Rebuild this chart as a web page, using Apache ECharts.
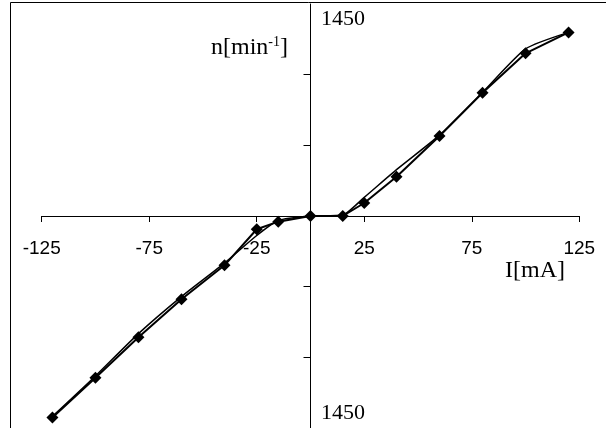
<!DOCTYPE html>
<html>
<head>
<meta charset="utf-8">
<script src="https://cdn.jsdelivr.net/npm/echarts@6/dist/echarts.min.js"></script>
<style>html,body{margin:0;padding:0;background:#fff}#c{width:606px;height:428px}</style>
</head>
<body>
<div id="c"></div>
<script>
var currentMA = [-120, -100, -80, -60, -40, -25, -15, 0, 15, 25, 40, 60, 80, 100, 120];
var speedMarked = [-1426, -1144, -858, -589, -349, -94, -40, 0, 0, 92, 278, 566, 872, 1151, 1299];
var speedPlain  = [-1418, -1132, -832, -570, -333, -138, -32, 0, 8, 132, 328, 572, 874, 1182, 1299];
var xTickValues = [-125, -75, -25, 25, 75, 125];
var yTickValues = [-1000, -500, 500, 1000];
var topLabel = '1450', bottomLabel = '1450';

function pairs(xs, ys) { return xs.map(function (x, i) { return [x, ys[i]]; }); }

var chart = echarts.init(document.getElementById('c'));
chart.setOption({
  animation: false,
  grid: { left: 41.7, right: 26.7, top: 4, bottom: 0, containLabel: false, outerBoundsMode: 'none' },
  xAxis: {
    type: 'value', min: -125, max: 125, position: 'bottom', offset: -212,
    axisLine: { onZero: false, lineStyle: { color: '#000', width: 1 } },
    axisTick: { show: true, length: 6, customValues: xTickValues, lineStyle: { color: '#000' } },
    axisLabel: { customValues: xTickValues, color: '#000', fontFamily: 'Liberation Sans', fontSize: 19, margin: 23 },
    splitLine: { show: false }
  },
  yAxis: {
    type: 'value', min: -1500, max: 1500,
    axisLine: { onZero: true, lineStyle: { color: '#000', width: 1 } },
    axisTick: { show: true, length: 7, customValues: yTickValues, lineStyle: { color: '#000' } },
    axisLabel: { show: false },
    splitLine: { show: false }
  },
  series: [
    { type: 'line', data: pairs(currentMA, speedPlain), symbol: 'none', smooth: 0.2,
      lineStyle: { color: '#000', width: 1.5 }, z: 2 },
    { type: 'line', data: pairs(currentMA, speedMarked), symbol: 'diamond', symbolSize: 12,
      itemStyle: { color: '#000' }, lineStyle: { color: '#000', width: 2 }, z: 3 }
  ],
  graphic: [
    { type: 'rect', shape: { x: 10.5, y: 2.5, width: 700, height: 600 }, style: { fill: 'none', stroke: '#000', lineWidth: 1 }, silent: true },
    { type: 'text', left: 321, top: 8, style: { text: topLabel, font: '22px "Liberation Serif"', fill: '#000' } },
    { type: 'text', left: 321, top: 402, style: { text: bottomLabel, font: '22px "Liberation Serif"', fill: '#000' } },
    { type: 'text', left: 505, top: 259, style: { text: 'I[mA]', font: '24px "Liberation Serif"', fill: '#000' } },
    { type: 'text', left: 211, top: 35, style: { text: 'n[min{s|-1}]', font: '24px "Liberation Serif"', fill: '#000',
        rich: { s: { fontSize: 14, fontFamily: 'Liberation Serif', verticalAlign: 'top', padding: [0, 0, 12, 0] } } } }
  ]
});
</script>
</body>
</html>
